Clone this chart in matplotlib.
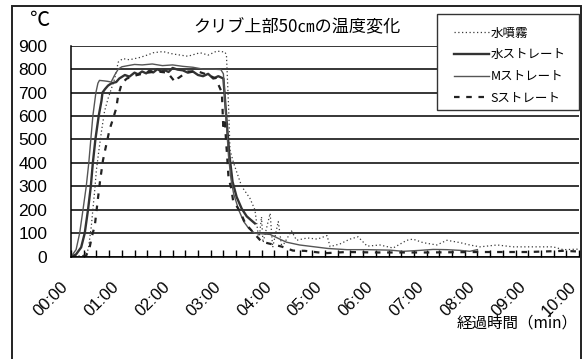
import matplotlib
matplotlib.use("Agg")
import matplotlib.pyplot as plt
from matplotlib.patches import Rectangle
from matplotlib.ticker import MultipleLocator, FixedLocator
import matplotlib.transforms as mtransforms

plt.rcParams['font.family'] = ['Liberation Sans', 'Noto Sans CJK JP', 'DejaVu Sans']
JP = ['Noto Sans CJK JP', 'DejaVu Sans']

# --- data (time in minutes, temperature in °C) ---
title = "クリブ上部50㎝の温度変化"
series_names = ["水噴霧", "水ストレート", "Mストレート", "Sストレート"]
x_ticks = [0, 1, 2, 3, 4, 5, 6, 7, 8, 9, 10]
x_tick_labels = ["00:00", "01:00", "02:00", "03:00", "04:00", "05:00",
                 "06:00", "07:00", "08:00", "09:00", "10:00"]
y_ticks = [0, 100, 200, 300, 400, 500, 600, 700, 800, 900]

mist_t = [0.0, 0.24, 0.34, 0.40, 0.43, 0.47, 0.50, 0.55, 0.60, 0.66, 0.73, 0.80, 0.86,
          0.93, 1.02, 1.15, 1.36, 1.50, 1.62, 1.81, 2.00, 2.15, 2.30, 2.54, 2.70,
          2.87, 3.03, 3.06, 3.10, 3.13, 3.20, 3.36, 3.52, 3.62, 3.70, 3.75, 3.78,
          3.92, 3.97, 4.08, 4.15, 4.34, 4.44, 4.65, 4.85, 5.04, 5.10, 5.30, 5.49,
          5.65, 5.83, 6.08, 6.34, 6.61, 6.73, 6.93, 7.20, 7.40, 7.66, 7.85, 8.05,
          8.39, 8.70, 9.09, 9.49, 9.69, 9.96, 10.0]
mist_v = [0, 5, 30, 130, 200, 290, 370, 455, 535, 620, 675, 720, 760,
          830, 845, 840, 850, 860, 870, 875, 865, 860, 855, 870, 860,
          877, 873, 860, 650, 455, 400, 300, 250, 200, 70, 170, 60,
          185, 40, 150, 40, 110, 70, 80, 75, 90, 43, 55, 75,
          85, 45, 50, 37, 70, 75, 60, 50, 70, 60, 50, 42,
          50, 42, 42, 42, 30, 32, 35]

water_t = [0.0, 0.10, 0.20, 0.27, 0.335, 0.39, 0.43, 0.48, 0.545, 0.60, 0.62, 0.67,
           0.73, 0.80, 0.89, 0.95, 1.06, 1.15, 1.25, 1.32, 1.40, 1.48, 1.55, 1.62,
           1.70, 1.78, 1.85, 1.92, 2.00, 2.10, 2.20, 2.30, 2.40, 2.50, 2.60, 2.70,
           2.80, 2.90, 3.00, 3.07, 3.12, 3.18, 3.26, 3.36, 3.46, 3.55, 3.62]
water_v = [0, 10, 40, 100, 200, 300, 400, 500, 600, 665, 700, 715,
           730, 740, 745, 760, 775, 768, 785, 778, 790, 782, 795, 786,
           800, 790, 795, 788, 805, 798, 795, 785, 790, 775, 770, 780,
           760, 770, 760, 560, 430, 320, 255, 205, 172, 155, 142]

m_t = [0.0, 0.05, 0.10, 0.17, 0.236, 0.30, 0.35, 0.39, 0.43, 0.49, 0.53, 0.56,
       0.65, 0.72, 0.79, 0.86, 0.93, 1.00, 1.12, 1.25, 1.40, 1.60, 1.80, 2.00,
       2.20, 2.40, 2.60, 2.80, 2.95, 3.00, 3.05, 3.10, 3.15, 3.20, 3.30, 3.40,
       3.50, 3.62, 3.75, 3.92, 4.11, 4.24, 4.50, 4.76, 5.06, 5.43, 5.83, 6.28,
       6.54, 6.87, 7.13, 7.40, 7.66, 7.85, 8.00]
m_v = [0, 15, 30, 100, 200, 300, 400, 500, 600, 700, 740, 752,
       750, 748, 745, 775, 800, 810, 815, 820, 818, 822, 815, 818,
       812, 808, 800, 800, 798, 780, 600, 430, 330, 270, 200, 150,
       120, 100, 98, 95, 75, 62, 50, 43, 35, 30, 30, 28,
       23, 27, 31, 30, 27, 23, 30]

s_t = [0.0, 0.30, 0.37, 0.41, 0.47, 0.52, 0.57, 0.63, 0.675, 0.76, 0.83, 0.89,
       0.925, 1.00, 1.10, 1.30, 1.50, 1.70, 1.90, 2.05, 2.10, 2.30, 2.50, 2.70,
       2.85, 2.97, 3.00, 3.03, 3.05, 3.07, 3.10, 3.16, 3.19, 3.33, 3.43, 3.75,
       4.15, 4.37, 4.60, 5.00, 5.43, 6.00, 7.00, 8.00, 9.00, 9.70, 10.0]
s_v = [0, 5, 43, 85, 135, 229, 320, 412, 458, 543, 590, 633,
       683, 740, 760, 775, 785, 790, 785, 745, 760, 790, 790, 775,
       760, 700, 540, 590, 500, 440, 340, 285, 240, 192, 142, 64,
       43, 26, 25, 15, 20, 18, 18, 20, 20, 25, 22]

# --- figure ---
W, H = 582, 359
fig = plt.figure(figsize=(W / 100, H / 100), dpi=100)
x0, x1, y0, y1 = 71, 579, 45.7, 256.7
ax = fig.add_axes([x0 / W, 1 - y1 / H, (x1 - x0) / W, (y1 - y0) / H])

ax.plot(mist_t, mist_v, color='#3a3a3a', lw=0.9, linestyle=(0, (1, 2.0)), label=series_names[0])
ax.plot(water_t, water_v, color='#333333', lw=1.7, label=series_names[1])
ax.plot(m_t, m_v, color='#555555', lw=1.0, label=series_names[2])
ax.plot(s_t, s_v, color='#222222', lw=1.6, linestyle=(0, (2.5, 3)), label=series_names[3])

ax.set_xlim(0, 10)
ax.set_ylim(0, 900)
ax.yaxis.set_major_locator(FixedLocator(y_ticks))
ax.set_yticklabels([str(v) for v in y_ticks], fontsize=12.5)
ax.tick_params(axis='y', length=0, pad=17)
ax.grid(axis='y', color='black', lw=1.1)
ax.set_axisbelow(True)

ax.xaxis.set_major_locator(FixedLocator(x_ticks))
ax.xaxis.set_minor_locator(MultipleLocator(0.25))
ax.set_xticklabels(x_tick_labels, fontsize=12, rotation=45, ha='right', va='center',
                   rotation_mode='anchor')
ax.tick_params(axis='x', which='both', direction='in', length=5, width=1.0, color='black', pad=20)
off = mtransforms.ScaledTranslation(-5 / 100, 0, fig.dpi_scale_trans)
for lbl in ax.get_xticklabels():
    lbl.set_transform(lbl.get_transform() + off)

for side in ['top', 'right']:
    ax.spines[side].set_visible(False)
for side in ['left', 'bottom']:
    ax.spines[side].set_color('black')
    ax.spines[side].set_linewidth(1.1)

# outer frame
fig.add_artist(Rectangle((12 / W, -0.02), (580.5 - 12) / W, 1.02 - 6 / H,
                         transform=fig.transFigure, fill=False, edgecolor='#222222', lw=1.4))

fig.text(39 / W, 1 - 20 / H, "℃", family=JP, fontsize=14.5, ha='center', va='center')
fig.text(297 / W, 1 - 27 / H, title, family=JP, fontsize=12.3, ha='center', va='center')
fig.text(578 / W, 1 - 323 / H, "経過時間（min）", family=JP, fontsize=11.2, ha='right', va='center')

# legend box and entries
fig.add_artist(Rectangle((437 / W, 1 - 110 / H), (579 - 437) / W, 96 / H,
                         transform=fig.transFigure, facecolor='white', edgecolor='#333333',
                         lw=1.0, zorder=4))
handles, labels = ax.get_legend_handles_labels()
leg = fig.legend(handles, labels, loc='upper left', bbox_to_anchor=(454 / W, 1 - 26.5 / H),
                 bbox_transform=fig.transFigure, frameon=False, borderpad=0,
                 borderaxespad=0, handlelength=2.8, handletextpad=0.15,
                 labelspacing=0.7, prop={'family': JP, 'size': 9})
leg.set_zorder(5)

fig.savefig("out.png", dpi=100)
